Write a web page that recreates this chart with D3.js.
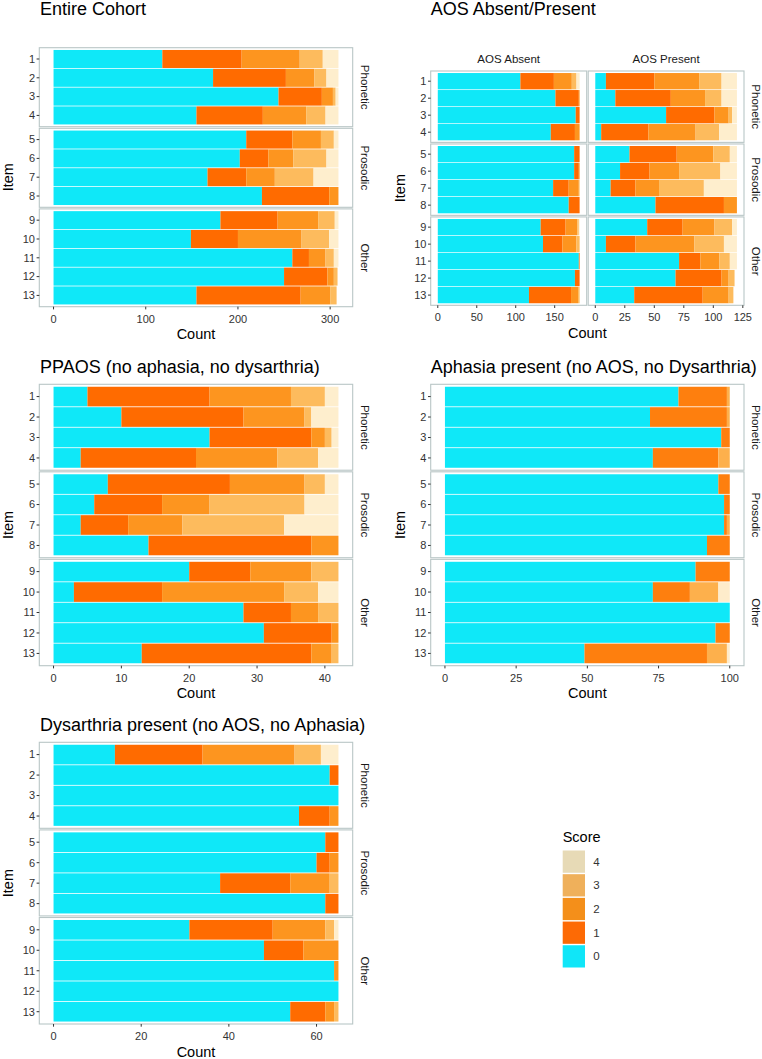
<!DOCTYPE html>
<html>
<head>
<meta charset="utf-8">
<script src="https://cdn.jsdelivr.net/npm/d3@7"></script>
<style>
  body { margin: 0; background: #fff; }
  svg { display: block; font-family: "Liberation Sans", Arial, Helvetica, sans-serif; }
</style>
</head>
<body>
<svg id="chart" width="762" height="1059"></svg>
<script>
/* Stacked score counts per item, faceted by item group. */

var groupNames = ['Phonetic', 'Prosodic', 'Other'];
var groupItems = [['1', '2', '3', '4'], ['5', '6', '7', '8'], ['9', '10', '11', '12', '13']];
var scoreLevels = ['0', '1', '2', '3', '4'];

var barColors = ['#0fe8f8', '#ff6b00', '#fd951f', '#fdbb5d', '#feeecd'];
var aphasiaColors = ['#0fe8f8', '#fe7f0e', '#fdb04c', '#feeccb'];
var legendColors = ['#10e6f8', '#fd6a05', '#f48f1a', '#efb05b', '#e7dab6'];

/* rows = items 1..13, columns = count at score 0,1,2,3,4 */
var entireCohort = [
  [118, 86, 63, 25, 17], [173, 79, 31, 13, 13], [244, 47, 12, 3, 3], [155, 72, 47, 21, 14],
  [209, 50, 31, 14, 5], [202, 31, 27, 36, 13], [167, 42, 31, 42, 27], [226, 73, 10, 0, 0],
  [181, 62, 44, 18, 4], [149, 51, 69, 30, 10], [259, 18, 18, 9, 5], [250, 47, 7, 4, 0],
  [155, 113, 32, 7, 0]
];
var aosAbsent = [
  [106, 43, 23, 6, 4], [151, 30, 1, 0, 0], [177, 5, 0, 0, 0], [145, 31, 6, 0, 0],
  [175, 7, 0, 0, 0], [175, 6, 1, 0, 0], [148, 20, 13, 1, 0], [168, 14, 0, 0, 0],
  [132, 32, 15, 2, 1], [135, 25, 18, 4, 0], [181, 1, 0, 0, 0], [176, 6, 0, 0, 0],
  [117, 54, 9, 2, 0]
];
var aosPresent = [
  [9, 41, 38, 19, 13], [17, 47, 29, 14, 13], [60, 41, 12, 3, 4], [5, 40, 40, 20, 15],
  [29, 40, 31, 14, 6], [21, 25, 25, 35, 14], [13, 21, 20, 38, 28], [51, 58, 11, 0, 0],
  [44, 30, 27, 15, 4], [9, 25, 50, 25, 11], [71, 18, 16, 9, 6], [68, 39, 6, 5, 0],
  [33, 58, 22, 4, 0]
];
var ppaos = [
  [5, 18, 12, 5, 2], [10, 18, 9, 1, 4], [23, 15, 2, 1, 1], [4, 17, 12, 6, 3],
  [8, 18, 11, 3, 2], [6, 10, 7, 14, 5], [4, 7, 8, 15, 8], [14, 24, 4, 0, 0],
  [20, 9, 9, 4, 0], [3, 13, 18, 5, 3], [28, 7, 4, 3, 0], [31, 10, 1, 0, 0],
  [13, 25, 3, 1, 0]
];
var aphasiaOnly = [
  [82, 17, 1, 0], [72, 27, 1, 0], [97, 3, 0, 0], [73, 23, 4, 0],
  [96, 4, 0, 0], [98, 2, 0, 0], [98, 1, 1, 0], [92, 8, 0, 0],
  [88, 12, 0, 0], [73, 13, 10, 4], [100, 0, 0, 0], [95, 5, 0, 0],
  [49, 43, 7, 1]
];
var dysarthriaOnly = [
  [14, 20, 21, 6, 4], [63, 2, 0, 0, 0], [65, 0, 0, 0, 0], [56, 7, 2, 0, 0],
  [62, 3, 0, 0, 0], [60, 3, 2, 0, 0], [38, 16, 9, 2, 0], [62, 3, 0, 0, 0],
  [31, 19, 12, 2, 1], [48, 9, 8, 0, 0], [64, 0, 1, 0, 0], [65, 0, 0, 0, 0],
  [54, 8, 2, 1, 0]
];

var ticksEntire = [0, 100, 200, 300];
var ticksAbsent = [0, 50, 100, 150];
var ticksPresent = [0, 25, 50, 75, 100, 125];
var ticksPpaos = [0, 10, 20, 30, 40];
var ticksAphasia = [0, 25, 50, 75, 100];
var ticksDysarthria = [0, 20, 40, 60];

var BORDER = '#b9c6c6';
var TEXT = '#1a1a1a';
var TICK_TEXT = '#333';

var panels = [
  { title: 'Entire Cohort', tx: 40, ty: 15, y0: 47.7, y1: 306.7,
    cols: [{ x0: 39.3, x1: 352.7, data: entireCohort, ticks: ticksEntire, colors: barColors }] },
  { title: 'AOS Absent/Present', tx: 430.7, ty: 15, y0: 71, y1: 305.3,
    cols: [
      { label: 'AOS Absent', x0: 430.7, x1: 586.7, data: aosAbsent, ticks: ticksAbsent, colors: barColors },
      { label: 'AOS Present', x0: 588.2, x1: 744, data: aosPresent, ticks: ticksPresent, colors: barColors }
    ] },
  { title: 'PPAOS (no aphasia, no dysarthria)', tx: 40, ty: 372.5, y0: 384.3, y1: 665.7,
    cols: [{ x0: 39.3, x1: 352.7, data: ppaos, ticks: ticksPpaos, colors: barColors }] },
  { title: 'Aphasia present (no AOS, no Dysarthria)', tx: 430.7, ty: 372.5, y0: 384.3, y1: 665.7,
    cols: [{ x0: 430.7, x1: 744, data: aphasiaOnly, ticks: ticksAphasia, colors: aphasiaColors }] },
  { title: 'Dysarthria present (no AOS, no Aphasia)', tx: 40, ty: 730.5, y0: 742.3, y1: 1024,
    cols: [{ x0: 39.3, x1: 352.7, data: dysarthriaOnly, ticks: ticksDysarthria, colors: barColors }] }
];

var svg = d3.select('#chart');

function drawPanel(p) {
  var g = svg.append('g');
  var FACET_GAP = 1.6;

  /* facet heights follow the number of items in each group */
  var units = groupItems.map(function(a) { return a.length + 0.2; });
  var unitPx = (p.y1 - p.y0 - FACET_GAP * (groupItems.length - 1)) / d3.sum(units);
  var facets = [];
  var fy = p.y0;
  groupItems.forEach(function(list, i) {
    var h = units[i] * unitPx;
    facets.push({ y0: fy, y1: fy + h, items: list, name: groupNames[i] });
    fy += h + FACET_GAP;
  });

  g.append('text')
    .attr('x', p.tx).attr('y', p.ty)
    .attr('font-size', 18).attr('fill', '#000')
    .text(p.title);

  p.cols.forEach(function(col, ci) {
    var maxTotal = d3.max(col.data, function(r) { return d3.sum(r); });
    var x = d3.scaleLinear()
      .domain([-0.05 * maxTotal, 1.05 * maxTotal])
      .range([col.x0, col.x1]);

    if (col.label) {
      g.append('text')
        .attr('x', (col.x0 + col.x1) / 2).attr('y', p.y0 - 8)
        .attr('text-anchor', 'middle')
        .attr('font-size', 11.5).attr('fill', TEXT)
        .text(col.label);
    }

    facets.forEach(function(f) {
      var y = d3.scaleBand()
        .domain(f.items)
        .range([f.y0, f.y1])
        .paddingInner(0.04)
        .paddingOuter(0.12);

      g.append('rect')
        .attr('x', col.x0).attr('y', f.y0)
        .attr('width', col.x1 - col.x0).attr('height', f.y1 - f.y0)
        .attr('fill', '#fff');

      f.items.forEach(function(item) {
        var row = col.data[+item - 1];
        var cum = [0].concat(Array.from(d3.cumsum(row)));
        var segs = row.map(function(v, k) { return { k: k, a: cum[k], b: cum[k + 1] }; })
          .filter(function(s) { return s.b > s.a; });
        g.selectAll(null).data(segs).enter().append('rect')
          .attr('x', function(s) { return x(s.a); })
          .attr('width', function(s) { return x(s.b) - x(s.a); })
          .attr('y', y(item))
          .attr('height', y.bandwidth())
          .attr('fill', function(s) { return col.colors[s.k]; });
      });

      g.append('rect')
        .attr('x', col.x0).attr('y', f.y0)
        .attr('width', col.x1 - col.x0).attr('height', f.y1 - f.y0)
        .attr('fill', 'none').attr('stroke', BORDER).attr('stroke-width', 1.1);

      /* item labels on the left-most column */
      if (ci === 0) {
        var ax = g.append('g');
        f.items.forEach(function(item) {
          var cy = y(item) + y.bandwidth() / 2;
          ax.append('line')
            .attr('x1', col.x0 - 2.7).attr('x2', col.x0)
            .attr('y1', cy).attr('y2', cy)
            .attr('stroke', TICK_TEXT).attr('stroke-width', 1);
          ax.append('text')
            .attr('x', col.x0 - 4.3).attr('y', cy)
            .attr('dy', '0.35em')
            .attr('text-anchor', 'end')
            .attr('font-size', 11).attr('fill', TICK_TEXT)
            .text(item);
        });
      }

      /* group strip on the right-most column */
      if (ci === p.cols.length - 1) {
        var sx = col.x1 + 12, sy = (f.y0 + f.y1) / 2;
        g.append('text')
          .attr('transform', 'translate(' + sx + ',' + sy + ') rotate(90)')
          .attr('text-anchor', 'middle')
          .attr('dy', '0.35em')
          .attr('font-size', 11.5).attr('fill', TEXT)
          .text(f.name);
      }
    });

    /* x axis */
    var xa = g.append('g');
    col.ticks.forEach(function(t) {
      xa.append('line')
        .attr('x1', x(t)).attr('x2', x(t))
        .attr('y1', p.y1).attr('y2', p.y1 + 2.7)
        .attr('stroke', TICK_TEXT).attr('stroke-width', 1);
      xa.append('text')
        .attr('x', x(t)).attr('y', p.y1 + 16)
        .attr('text-anchor', 'middle')
        .attr('font-size', 11).attr('fill', TICK_TEXT)
        .text(t);
    });
  });

  var left = p.cols[0].x0, right = p.cols[p.cols.length - 1].x1;
  g.append('text')
    .attr('x', (left + right) / 2).attr('y', p.y1 + 32.5)
    .attr('text-anchor', 'middle')
    .attr('font-size', 14.5).attr('fill', '#000')
    .text('Count');

  g.append('text')
    .attr('transform', 'translate(' + (left - 26) + ',' + ((p.y0 + p.y1) / 2) + ') rotate(-90)')
    .attr('text-anchor', 'middle')
    .attr('font-size', 14.5).attr('fill', '#000')
    .text('Item');
}

panels.forEach(drawPanel);

/* legend */
var legend = svg.append('g').attr('transform', 'translate(562.7,0)');
legend.append('text')
  .attr('x', 0).attr('y', 841.5)
  .attr('font-size', 14.5).attr('fill', '#000')
  .text('Score');

var legendOrder = scoreLevels.slice().reverse();
var ly = d3.scaleBand().domain(legendOrder).range([850.5, 967.5]).paddingInner(0.06);
legendOrder.forEach(function(s) {
  legend.append('rect')
    .attr('x', 0).attr('y', ly(s))
    .attr('width', 22.3).attr('height', ly.bandwidth())
    .attr('fill', legendColors[+s]);
  legend.append('text')
    .attr('x', 30.5).attr('y', ly(s) + ly.bandwidth() / 2)
    .attr('dy', '0.35em')
    .attr('font-size', 11.5).attr('fill', TICK_TEXT)
    .text(s);
});
</script>
</body>
</html>
